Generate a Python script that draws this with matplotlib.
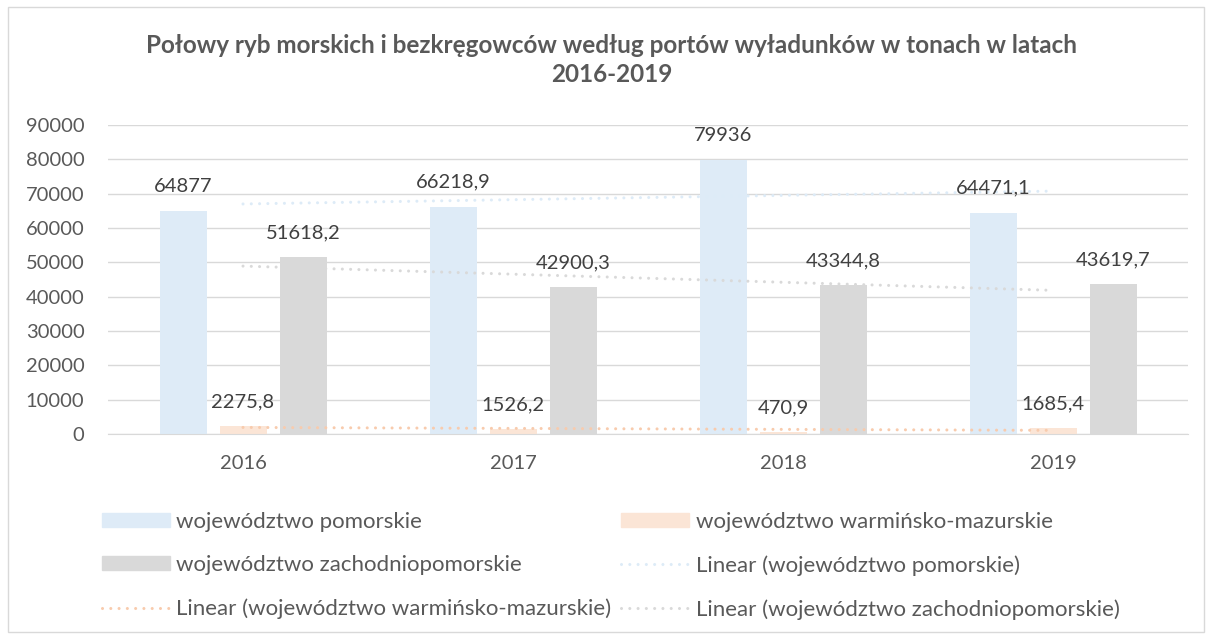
import numpy as np
import matplotlib
matplotlib.use("Agg")
import matplotlib.pyplot as plt
from matplotlib.patches import Patch, Rectangle
from matplotlib.lines import Line2D

plt.rcParams['font.family'] = ['Lato', 'DejaVu Sans']

years = ["2016", "2017", "2018", "2019"]
pomorskie = [64877, 66218.9, 79936, 64471.1]
warminsko = [2275.8, 1526.2, 470.9, 1685.4]
zachodnio = [51618.2, 42900.3, 43344.8, 43619.7]
series_names = ["województwo pomorskie", "województwo warmińsko-mazurskie",
                "województwo zachodniopomorskie"]
title = "Połowy ryb morskich i bezkręgowców według portów wyładunków w tonach w latach\n2016-2019"
yticks = [0, 10000, 20000, 30000, 40000, 50000, 60000, 70000, 80000, 90000]

bar_colors = ["#DEEBF7", "#FBE5D6", "#D9D9D9"]
trend_colors = ["#DDEBF7", "#F8CBAD", "#D9D9D9"]
text_color = "#595959"
label_color = "#404040"
dot_style = (0, (0.01, 2.7))

W, H = 1212, 639
fig = plt.figure(figsize=(W / 100, H / 100), dpi=100)
fig.patches.append(Rectangle((8 / W, 7 / H), 1196 / W, 625 / H, transform=fig.transFigure,
                             fill=False, edgecolor="#D9D9D9", linewidth=1))

ax = fig.add_axes([108 / W, (H - 434) / H, (1188 - 108) / W, 309 / H])
x = np.arange(len(years))
bw = 47 / 270
off = 60 / 270
data = [pomorskie, warminsko, zachodnio]

def fmt(v):
    s = ("%g" % v)
    return s.replace(".", ",")

for i, (vals, c) in enumerate(zip(data, bar_colors)):
    xs = x + (i - 1) * off
    ax.bar(xs, vals, width=bw, color=c, zorder=2)
    for xi, v in zip(xs, vals):
        ax.annotate(fmt(v), (xi, v), xytext=(0, 17.5), textcoords="offset points",
                    ha="center", va="center", fontsize=14.5, color=label_color, zorder=4)

for vals, c in zip(data, trend_colors):
    k, b = np.polyfit(x, vals, 1)
    xt = np.array([x[0], x[-1]])
    ax.plot(xt, k * xt + b, color=c, linestyle=dot_style, linewidth=2.2,
            dash_capstyle="round", zorder=3)

ax.set_xlim(-0.5, 3.5)
ax.set_ylim(0, 90000)
ax.set_yticks(yticks)
ax.set_yticklabels([str(t) for t in yticks])
ax.set_xticks(x)
ax.set_xticklabels(years)
ax.tick_params(axis="both", length=0, labelsize=14.5, colors=text_color)
ax.tick_params(axis="y", pad=17)
ax.tick_params(axis="x", pad=15)
ax.grid(axis="y", color="#D9D9D9", linewidth=1, zorder=0)
for s in ["top", "right", "left"]:
    ax.spines[s].set_visible(False)
ax.spines["bottom"].set_color("#D9D9D9")
ax.set_axisbelow(True)

fig.text(612 / W, 1 - 60 / H, title, ha="center", va="center", fontsize=17.5,
         fontweight="bold", color=text_color, linespacing=1.35)

h_pom = Patch(color=bar_colors[0])
h_war = Patch(color=bar_colors[1])
h_zac = Patch(color=bar_colors[2])
l_pom = Line2D([], [], color=trend_colors[0], linestyle=dot_style, linewidth=2.2, dash_capstyle="round")
l_war = Line2D([], [], color=trend_colors[1], linestyle=dot_style, linewidth=2.2, dash_capstyle="round")
l_zac = Line2D([], [], color=trend_colors[2], linestyle=dot_style, linewidth=2.2, dash_capstyle="round")
handles = [h_pom, h_zac, l_war, h_war, l_pom, l_zac]
labels = [series_names[0], series_names[2], "Linear (" + series_names[1] + ")",
          series_names[1], "Linear (" + series_names[0] + ")", "Linear (" + series_names[2] + ")"]
leg = fig.legend(handles, labels, ncol=2, loc="upper left", bbox_to_anchor=(84 / W, 1 - 494 / H),
                 frameon=False, fontsize=16, labelcolor=text_color, handlelength=3.05,
                 handleheight=0.6, handletextpad=0.3, columnspacing=0.45, labelspacing=1.05,
                 borderpad=0.3)

fig.savefig("out.png", dpi=100)
